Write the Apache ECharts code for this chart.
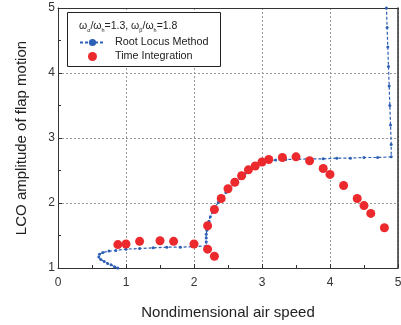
<!DOCTYPE html>
<html>
<head>
<meta charset="utf-8">
<script src="https://cdn.jsdelivr.net/npm/echarts@6/dist/echarts.min.js"></script>
<style>
html, body { margin: 0; padding: 0; background: #fff; }
#main { width: 401px; height: 325px; }
</style>
</head>
<body>
<div id="main"></div>
<script>
// root locus curve (speed, amplitude)
var rlX = [0.88, 0.83, 0.78, 0.73, 0.68, 0.63, 0.60, 0.61, 0.66, 0.75, 0.85, 1.00, 1.20, 1.40, 1.60, 1.80, 2.00, 2.18,
    2.18, 2.18, 2.18, 2.19, 2.20, 2.22, 2.24, 2.27, 2.31, 2.36, 2.41, 2.47, 2.53, 2.60, 2.67, 2.75, 2.83, 2.92, 3.01,
    3.10, 3.20, 3.35, 3.50, 3.70, 3.90, 4.10, 4.30, 4.50, 4.70, 4.90, 4.90, 4.89, 4.88, 4.87, 4.86, 4.85, 4.84, 4.83];
var rlY = [1.00, 1.02, 1.05, 1.07, 1.10, 1.13, 1.17, 1.21, 1.24, 1.26, 1.27, 1.29, 1.30, 1.31, 1.32, 1.32, 1.33, 1.34,
    1.40, 1.46, 1.52, 1.58, 1.65, 1.72, 1.79, 1.86, 1.94, 2.01, 2.08, 2.16, 2.23, 2.31, 2.38, 2.45, 2.51, 2.57, 2.62,
    2.65, 2.66, 2.67, 2.67, 2.68, 2.68, 2.69, 2.69, 2.70, 2.70, 2.71, 2.90, 3.20, 3.50, 3.80, 4.10, 4.40, 4.70, 5.00];

// time integration results
var tiX = [0.88, 1.00, 1.20, 1.50, 1.70, 2.00, 2.20, 2.30, 2.20, 2.30, 2.40, 2.50, 2.60, 2.70, 2.80, 2.90, 3.00, 3.10,
    3.30, 3.50, 3.70, 3.90, 4.00, 4.20, 4.40, 4.50, 4.60, 4.80];
var tiY = [1.36, 1.37, 1.41, 1.42, 1.41, 1.37, 1.29, 1.18, 1.65, 1.90, 2.07, 2.22, 2.32, 2.42, 2.51, 2.57, 2.63, 2.67,
    2.70, 2.71, 2.65, 2.53, 2.44, 2.27, 2.07, 1.96, 1.84, 1.62];

var xTicks = [0, 1, 2, 3, 4, 5];
var yTicks = [1, 2, 3, 4, 5];

var rlData = [];
for (var i = 0; i < rlX.length; i++) {
    rlData.push([rlX[i], rlY[i]]);
}
var tiData = [];
for (var j = 0; j < tiX.length; j++) {
    tiData.push([tiX[j], tiY[j]]);
}

var font = 'Liberation Sans, Arial, sans-serif';
var myChart = echarts.init(document.getElementById('main'));

var option = {
    animation: false,
    textStyle: { fontFamily: font },
    grid: { left: 58, right: 3, top: 8, bottom: 57, outerBoundsMode: 'none' },
    title: {
        left: 79, top: 19, padding: 0,
        text: 'ω{s|α}/ω{s|h}=1.3, ω{s|β}/ω{s|h}=1.8',
        textStyle: {
            fontFamily: font, fontSize: 10.5, fontWeight: 'normal', color: '#222',
            rich: { s: { fontFamily: font, fontSize: 5.5, color: '#222', padding: [8, 0, 0, 0] } }
        },
        z: 6
    },
    legend: {
        left: 79, top: 37, orient: 'vertical', padding: 0,
        itemWidth: 25, itemHeight: 9, itemGap: 3,
        textStyle: { fontFamily: font, fontSize: 10.8, color: '#222', padding: [0, 0, 0, 5] },
        data: ['Root Locus Method', 'Time Integration'],
        z: 6
    },
    graphic: [{
        type: 'rect', z: 3,
        shape: { x: 67.5, y: 12.5, width: 153, height: 54 },
        style: { fill: '#fff', stroke: '#222', lineWidth: 1 }
    }],
    xAxis: [{
        type: 'value', min: xTicks[0], max: xTicks[xTicks.length - 1], interval: 1,
        name: 'Nondimensional air speed', nameLocation: 'middle', nameGap: 37,
        nameTextStyle: { fontFamily: font, fontSize: 15, color: '#222' },
        axisLine: { show: true, lineStyle: { color: '#333', width: 1 } },
        axisTick: { show: true, inside: true, length: 4, lineStyle: { color: '#333' } },
        minorTick: { show: true, splitNumber: 2, length: 3, lineStyle: { color: '#333' } },
        axisLabel: { fontFamily: font, fontSize: 12, color: '#333', margin: 9 },
        splitLine: { show: true, lineStyle: { color: '#999', type: [2, 2], width: 1 } }
    }, {
        type: 'value', position: 'top', min: 0, max: 5,
        axisLine: { show: true, onZero: false, lineStyle: { color: '#333', width: 1 } },
        axisTick: { show: false }, axisLabel: { show: false }, splitLine: { show: false }
    }],
    yAxis: [{
        type: 'value', min: yTicks[0], max: yTicks[yTicks.length - 1], interval: 1,
        name: 'LCO amplitude of flap motion', nameLocation: 'middle', nameGap: 29, nameRotate: 90,
        nameTextStyle: { fontFamily: font, fontSize: 15, color: '#222' },
        axisLine: { show: true, lineStyle: { color: '#333', width: 1 } },
        axisTick: { show: true, inside: true, length: 4, lineStyle: { color: '#333' } },
        minorTick: { show: true, splitNumber: 2, length: 3, lineStyle: { color: '#333' } },
        axisLabel: { fontFamily: font, fontSize: 12, color: '#333', margin: 3 },
        splitLine: { show: true, lineStyle: { color: '#999', type: [2, 2], width: 1 } }
    }, {
        type: 'value', position: 'right', min: 1, max: 5,
        axisLine: { show: true, onZero: false, lineStyle: { color: '#333', width: 1.5 } },
        axisTick: { show: false }, axisLabel: { show: false }, splitLine: { show: false }
    }],
    series: [
        {
            name: 'Root Locus Method',
            type: 'line',
            data: rlData,
            symbol: 'circle',
            symbolSize: 3,
            showSymbol: true,
            clip: true,
            itemStyle: { color: '#2d5fb5' },
            lineStyle: { color: '#2d5fb5', width: 1.2, type: [3, 2] },
            z: 2
        },
        {
            name: 'Time Integration',
            type: 'scatter',
            data: tiData,
            symbol: 'circle',
            symbolSize: 9,
            itemStyle: { color: '#ec2a2e', opacity: 1 },
            z: 3
        }
    ]
};

myChart.setOption(option);
</script>
</body>
</html>
